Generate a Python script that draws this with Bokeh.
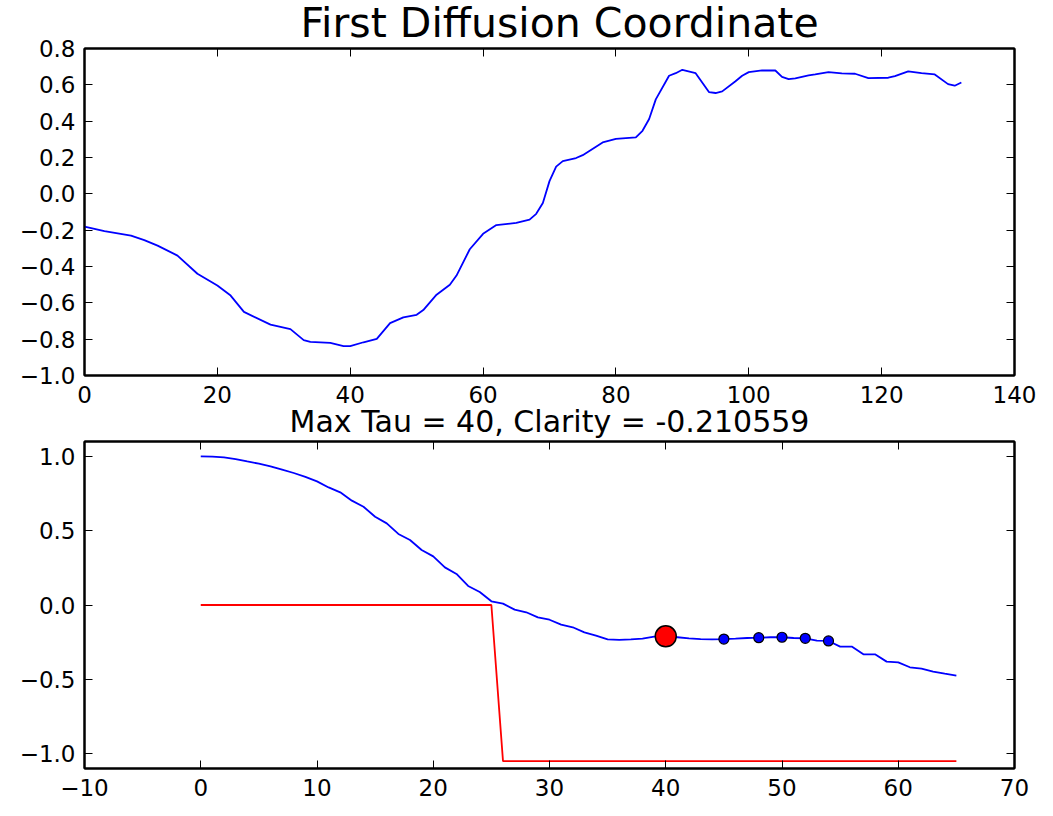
from bokeh.plotting import figure
from bokeh.layouts import column
from bokeh.models import (LinearAxis, FixedTicker, CustomJSTickFormatter, Range1d,
                          CustomLabelingPolicy, Title)
from bokeh.embed import file_html
from bokeh.resources import INLINE

FONT = "DejaVu Sans"

# First diffusion coordinate along the sequence
coord_x = [0, 3, 7, 9, 11, 14, 17, 20, 22, 24, 28, 31, 33, 34, 37, 39, 40, 42, 44,
           46, 48, 50, 51, 53, 55, 56, 58, 60, 62, 65, 67, 68, 69, 70, 71, 72, 74,
           75, 78, 80, 81, 83, 84, 85, 86, 88, 89, 90, 92, 94, 95, 96, 98, 99, 100,
           102, 104, 105, 106, 107, 109, 110, 112, 114, 116, 118, 121, 122, 124,
           126, 128, 130, 131, 132]
coord_y = [-0.18, -0.205, -0.23, -0.255, -0.285, -0.34, -0.44, -0.505, -0.56, -0.65,
           -0.72, -0.745, -0.805, -0.815, -0.82, -0.838, -0.838, -0.817, -0.798,
           -0.712, -0.68, -0.666, -0.64, -0.555, -0.5, -0.45, -0.305, -0.22, -0.172,
           -0.16, -0.142, -0.11, -0.05, 0.07, 0.15, 0.18, 0.197, 0.213, 0.283, 0.302,
           0.305, 0.311, 0.347, 0.412, 0.52, 0.65, 0.664, 0.683, 0.664, 0.56, 0.555,
           0.564, 0.62, 0.65, 0.67, 0.679, 0.679, 0.644, 0.632, 0.636, 0.652, 0.657,
           0.67, 0.663, 0.661, 0.637, 0.639, 0.648, 0.674, 0.664, 0.657, 0.604,
           0.595, 0.613]

# Autocorrelation against lag tau
tau = list(range(66))
autocorr = [1.0, 0.998, 0.993, 0.982, 0.966, 0.951, 0.933, 0.911, 0.888, 0.862,
            0.832, 0.791, 0.758, 0.702, 0.661, 0.594, 0.549, 0.478, 0.437, 0.37,
            0.327, 0.253, 0.209, 0.128, 0.087, 0.025, 0.009, -0.031, -0.049, -0.083,
            -0.099, -0.132, -0.15, -0.184, -0.206, -0.231, -0.235, -0.231, -0.226,
            -0.213, -0.210559, -0.217, -0.224, -0.229, -0.231, -0.229, -0.226,
            -0.222, -0.22, -0.217, -0.217, -0.222, -0.224, -0.24, -0.242, -0.28,
            -0.28, -0.332, -0.332, -0.381, -0.386, -0.419, -0.428, -0.448, -0.462,
            -0.475]

# Threshold indicator
thresh_x = [0, 25, 26, 65]
thresh_y = [0.0, 0.0, -1.05, -1.05]

max_tau = 40
clarity = -0.210559
candidate_taus = [45, 48, 50, 52, 54]

top_xticks = [0, 20, 40, 60, 80, 100, 120, 140]
top_yticks = [-1.0, -0.8, -0.6, -0.4, -0.2, 0.0, 0.2, 0.4, 0.6, 0.8]
bot_xticks = [-10, 0, 10, 20, 30, 40, 50, 60, 70]
bot_yticks = [-1.0, -0.5, 0.0, 0.5, 1.0]

FMT0 = "return tick.toFixed(0).replace('-', '\\u2212')"
FMT1 = "return tick.toFixed(1).replace('-', '\\u2212')"
# the mirrored top/right axes carry ticks only
NO_LABELS = "for (const i of [...indices.ones()]) { indices.unset(i) }\nreturn indices"


def style_title(t, size):
    t.text_font = FONT
    t.text_font_style = "normal"
    t.text_font_size = size
    t.text_color = "black"


def style(p, xticks, yticks, above_gap):
    top, right = LinearAxis(), LinearAxis()
    p.add_layout(top, "above")
    p.add_layout(right, "right")
    bottom, left = p.below[0], p.left[0]
    for ax in (bottom, top):
        ax.ticker = FixedTicker(ticks=xticks)
        ax.formatter = CustomJSTickFormatter(code=FMT0)
    for ax in (left, right):
        ax.ticker = FixedTicker(ticks=yticks)
        ax.formatter = CustomJSTickFormatter(code=FMT1)
    for ax in (bottom, top, left, right):
        ax.major_tick_in = 8
        ax.major_tick_out = 0
        ax.minor_tick_line_color = None
        ax.axis_line_color = "black"
        ax.axis_line_width = 2
        ax.major_tick_line_color = "black"
        ax.major_tick_line_width = 1
        ax.major_label_text_font = FONT
        ax.major_label_text_font_size = "23px"
        ax.major_label_text_color = "black"
    bottom.major_label_standoff = 10
    left.major_label_standoff = 9
    for ax in (top, right):
        ax.major_label_policy = CustomLabelingPolicy(code=NO_LABELS)
        ax.major_label_text_font_size = "0px"
        ax.major_label_standoff = 0
    if above_gap:
        # spacer between the frame and the title
        top.major_label_text_font_size = "1px"
        top.major_label_standoff = above_gap
    p.xgrid.grid_line_color = None
    p.ygrid.grid_line_color = None
    p.outline_line_color = "black"
    p.outline_line_width = 2
    p.background_fill_color = "white"
    p.border_fill_color = "white"


p1 = figure(width=1053, height=440, x_range=Range1d(0, 140), y_range=Range1d(-1.0, 0.8),
            output_backend="svg", toolbar_location=None,
            min_border_left=84, min_border_right=39, min_border_top=48, min_border_bottom=65,
            title="First Diffusion Coordinate")
style(p1, top_xticks, top_yticks, 2)
style_title(p1.title, "41px")
p1.title.align = "left"
p1.title.offset = 216
p1.title.standoff = -8
p1.line(coord_x, coord_y, line_color="#0000ff", line_width=1.8)

# heading of the lower panel sits in the gap under the upper axis
sub_title = Title(text=f"Max Tau = {max_tau}, Clarity = {clarity}", align="center",
                  standoff=-7)
style_title(sub_title, "30px")
p1.add_layout(sub_title, "below")

p2 = figure(width=1053, height=376, x_range=Range1d(-10, 70), y_range=Range1d(-1.1, 1.1),
            output_backend="svg", toolbar_location=None,
            min_border_left=84, min_border_right=39, min_border_top=1, min_border_bottom=48)
style(p2, bot_xticks, bot_yticks, 0)
p2.line(tau, autocorr, line_color="#0000ff", line_width=1.8)
p2.line(thresh_x, thresh_y, line_color="#ff0000", line_width=1.8)
p2.scatter([max_tau], [autocorr[tau.index(max_tau)]], size=21, fill_color="#ff0000",
           line_color="black", line_width=1.5)
p2.scatter(candidate_taus, [autocorr[tau.index(t)] for t in candidate_taus], size=10,
           fill_color="#0000ff", line_color="black", line_width=1.2)

layout = column(p1, p2, spacing=0)
open("out.html", "w").write(file_html(layout, INLINE))
